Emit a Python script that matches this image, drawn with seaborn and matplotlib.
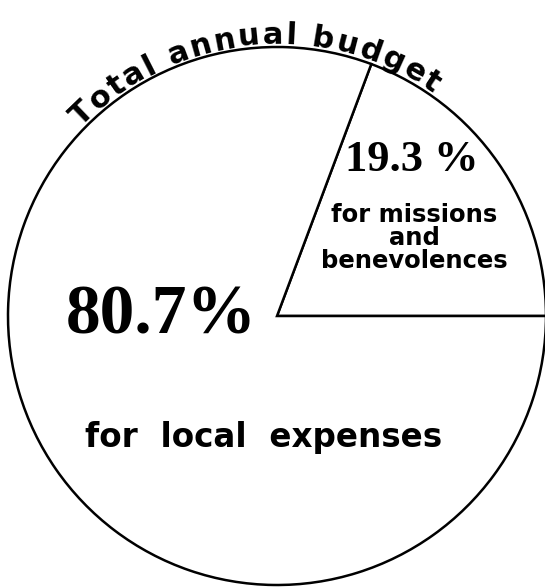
import numpy as np
import seaborn as sns
import matplotlib.pyplot as plt

sns.set_style("white")
plt.rcParams['font.family'] = ['DejaVu Sans']
plt.rcParams['text.color'] = 'black'

shares = [19.3, 80.7]
big_labels = ["19.3 %", "80.7%"]
small_labels = ["for missions\nand\nbenevolences", "for  local  expenses"]
title = "Total annual budget"

fig = plt.figure(figsize=(5.45, 5.88), dpi=100)
ax = fig.add_axes([0, 0, 1, 1])

ax.pie(shares, startangle=0, counterclock=True, colors=["white", "white"],
       wedgeprops=dict(edgecolor="black", linewidth=1.8))

# circle centre sits at (277, 316) px with radius 269 px
ax.set_xlim(-277 / 269, 268 / 269)
ax.set_ylim(-272 / 269, 316 / 269)
ax.set_aspect("equal")
ax.axis("off")

# labels inside the slices
ax.text(0.50, 0.58, big_labels[0], fontsize=32, ha="center", va="center",
        family="Liberation Serif", fontweight="bold")
ax.text(0.51, 0.29, small_labels[0], fontsize=17.5, ha="center", va="center",
        linespacing=0.95, fontweight="semibold")
ax.text(-0.43, 0.0, big_labels[1], fontsize=50, ha="center", va="center",
        family="Liberation Serif", fontweight="bold")
ax.text(-0.05, -0.45, small_labels[1], fontsize=23.5, ha="center", va="center",
        fontweight="semibold")

# title bent along the rim: measure each glyph, then spread along the arc
renderer = fig.canvas.get_renderer()
fs = 22
widths = []
for ch in title:
    t = ax.text(0, 0, ch if ch != " " else "n", fontsize=fs, fontweight="bold")
    w = t.get_window_extent(renderer).width
    widths.append(w * (0.5 if ch == " " else 1.0))
    t.remove()

a_start, a_end = 136.0, 55.0
r_base = 1.012
r_px = r_base * 269
arc_len = np.radians(a_start - a_end) * r_px
gap = (arc_len - sum(widths)) / (len(title) - 1)
pos = 0.0
for ch, w in zip(title, widths):
    centre = pos + w / 2
    a = a_start - np.degrees(centre / r_px)
    pos += w + gap
    if ch == " ":
        continue
    x = r_base * np.cos(np.radians(a))
    y = r_base * np.sin(np.radians(a))
    ax.text(x, y, ch, fontsize=fs, ha="center", va="baseline", fontweight="bold",
            rotation=a - 90, rotation_mode="anchor")

fig.savefig("out.png", dpi=100)
